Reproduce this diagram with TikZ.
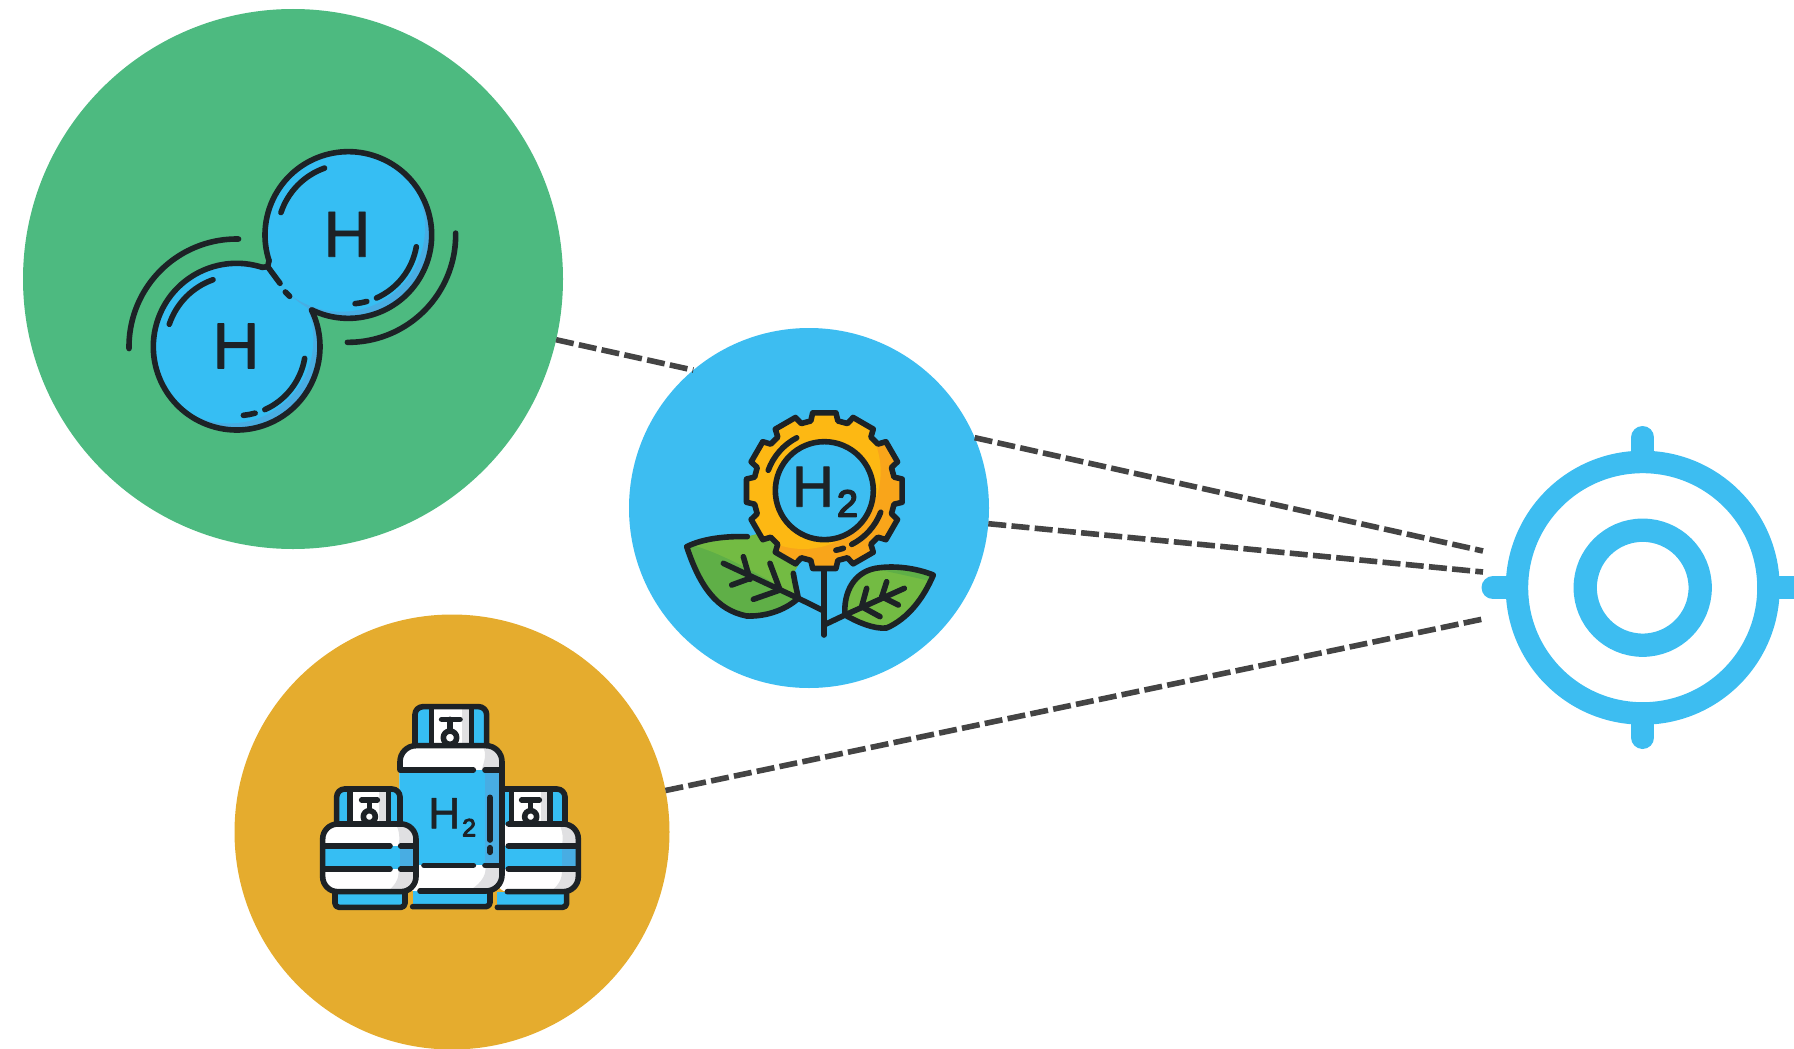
\documentclass[tikz,border=0pt]{standalone}
\usepackage{fontspec}
\setmainfont{Liberation Sans}
\newfontfamily\hfont[RawFeature={embolden=1.2}]{Liberation Sans}
\newfontfamily\hfontb[RawFeature={embolden=4}]{Liberation Sans}
\definecolor{ink}{HTML}{1D2226}
\definecolor{cgreen}{HTML}{4DBA80}
\definecolor{cblue}{HTML}{3DBDF1}
\definecolor{cgold}{HTML}{E5AC2E}
\definecolor{atomblue}{HTML}{36BEF3}
\definecolor{atomshade}{HTML}{48ADE3}
\definecolor{gearlight}{HTML}{FDB813}
\definecolor{geardark}{HTML}{F9A51A}
\definecolor{leaflight}{HTML}{73BB43}
\definecolor{leafdark}{HTML}{5FAF47}
\definecolor{tankgray}{HTML}{E0E0E2}
\definecolor{dashc}{HTML}{444444}
\tikzset{
  disc/.style={circle,inner sep=0pt,outer sep=0pt,minimum size=#1},
  ring/.style={circle,draw=cblue,line width=#1,inner sep=0pt,outer sep=0pt},
  dashline/.style={draw=dashc,line width=5.6pt,dash pattern=on 18pt off 5.3pt},
  tick/.style={draw=cblue,line width=23pt,line cap=round},
  inkline/.style={draw=ink,line width=#1,line cap=round,line join=round},
  inkline/.default=5.6pt,
  zoomed/.style={shift={#1},x=.33333pt,y=-.33333pt},
  lbl/.style={inner sep=0pt,outer sep=0pt,text=ink}
}
% screen angles: clockwise from east
\newcommand{\arcat}[5][]{\draw[inkline,#1] (#2) ++(#4:#3) arc[start angle=#4,end angle=#5,radius=#3];}
\newcommand{\atom}[1]{%
  \begin{scope}
    \clip (#1) circle[radius=250];
    \fill[atomshade] (#1) circle[radius=252];
    \fill[atomblue] ([shift={(-22,-22)}]#1) circle[radius=252];
  \end{scope}}
\newcommand{\atomglints}[1]{%
  \arcat{#1}{213}{-161.6}{-109.5}
  \arcat{#1}{207}{9.8}{65.9}
  \arcat{#1}{207}{84.4}{74.5}}
\def\gearpath{(-11:213) \foreach \a in {0,30,...,330}{ -- (\a-11:213) -- (\a-8.5:236) -- (\a+8.5:236) -- (\a+11:213)} -- cycle}
\begin{document}
\begin{tikzpicture}[x=1pt,y=-1pt,line join=round]
\useasboundingbox (0,0) rectangle (1794,1049);
% discs
\node[disc=540pt,fill=cgreen] (green) at (293,279) {};
\node[disc=360pt,fill=cblue] (blue) at (809,508) {};
\node[disc=435pt,fill=cgold] (gold) at (452,832) {};
% target
\coordinate (tA) at (1642.7,437.5);
\coordinate (tB) at (1642.7,452);
\coordinate (bA) at (1642.7,737.5);
\coordinate (bB) at (1642.7,723);
\coordinate (lA) at (1493,587.7);
\coordinate (lB) at (1507,587.7);
\coordinate (rA) at (1815,587.7);
\coordinate (rB) at (1778,587.7);
\draw[tick] (tA) -- (tB);
\draw[tick] (bA) -- (bB);
\draw[tick] (lA) -- (lB);
\draw[tick] (rA) -- (rB);
\node[ring=22.5pt,minimum size=251.5pt] (outerring) at (1642.7,587.7) {};
\node[ring=23.3pt,minimum size=115pt] (innerring) at (1642.7,587.7) {};
% connectors
\coordinate (endB) at (1483,551);
\coordinate (endC) at (1483,572);
\coordinate (endD) at (1483,619);
\draw[dashline] (green.-13) -- (blue.130.7);
\draw[dashline] (blue.23.6) -- (endB);
\draw[dashline] (blue.-5.7) -- (endC);
\draw[dashline] (gold.11.9) -- (endD);
% ---------- molecule
\begin{scope}[zoomed={(100,120)}]
  \coordinate (U) at (745,345);
  \coordinate (L) at (410,680);
  \atom{L}
  \atom{U}
  \arcat{L}{250}{-72}{-386}
  \arcat{U}{250}{116}{-198}
  \draw[inkline] (487,442) -- (503,440) -- (507,422);
  \draw[inkline] (503,440) -- (540,490);
  \draw[inkline] (556,516) -- (569,529);
  \atomglints{L}
  \atomglints{U}
  \arcat{L}{323}{179}{271}
  \arcat{U}{322}{-1}{90.5}
  \node[lbl,font=\hfont\fontsize{65}{65}\selectfont] (h1) at (741,343) {H};
  \node[lbl,font=\hfont\fontsize{65}{65}\selectfont] (h2) at (408,678) {H};
\end{scope}
% ---------- flower
\begin{scope}[zoomed={(660,390)}]
  % stem
  \draw[inkline] (492,545) -- (492,735);
  \draw[inkline] (415,625) -- (490,662);
  \draw[inkline] (492,705) -- (555,675);
  % left leaf
  \def\leafL{(80,470) .. controls (130,445) and (200,438) .. (262,440) -- (340,420) -- (430,500) -- (400,550) .. controls (405,580) and (410,600) .. (415,625) .. controls (370,665) and (310,680) .. (260,678) .. controls (170,660) and (120,590) .. (80,470) -- cycle}
  \begin{scope}
    \clip \leafL;
    \fill[leafdark] (60,410) rectangle (440,690);
    \fill[leaflight] (95,465) .. controls (190,490) and (310,560) .. (420,625) -- (440,410) -- (90,410) -- cycle;
  \end{scope}
  \draw[inkline] (262,440) .. controls (200,438) and (130,445) .. (80,470) .. controls (120,590) and (170,660) .. (260,678) .. controls (310,680) and (370,665) .. (415,625) .. controls (410,600) and (405,580) .. (400,550);
  \draw[inkline] (190,520) -- (415,625);
  \draw[inkline] (250,500) -- (270,568);
  \draw[inkline] (215,585) -- (270,565);
  \draw[inkline] (330,520) -- (360,600);
  \draw[inkline] (280,628) -- (360,600);
  % right leaf
  \def\leafR{(555,675) .. controls (550,610) and (580,540) .. (660,533) .. controls (710,527) and (770,535) .. (820,555) .. controls (790,625) and (745,685) .. (680,714) .. controls (640,718) and (590,695) .. (555,675) -- cycle}
  \begin{scope}
    \clip \leafR;
    \fill[leaflight] (540,520) rectangle (830,720);
    \fill[leafdark] (600,525) .. controls (680,545) and (760,560) .. (815,575) -- (830,520) -- cycle;
  \end{scope}
  \draw[inkline] \leafR;
  \draw[inkline] (555,675) -- (733,595);
  \draw[inkline] (620,595) -- (605,650);
  \draw[inkline] (680,575) -- (665,622);
  \draw[inkline] (715,645) -- (665,620);
  \draw[inkline] (660,680) -- (605,650);
  % gear
  \begin{scope}[shift={(493,302)}]
    \begin{scope}
      \clip \gearpath;
      \fill[geardark] (0,0) circle[radius=260];
      \fill[gearlight] (-63,-57) circle[radius=232];
    \end{scope}
    \draw[inkline] \gearpath;
    \coordinate (G) at (0,0);
    \filldraw[inkline,fill=cblue] (G) circle[radius=147];
    \arcat{G}{179}{-160}{-117.6}
    \arcat{G}{181}{21}{63}
    \arcat{G}{182}{79}{71.7}
  \end{scope}
  \node[lbl,anchor=base west,font=\hfont\fontsize{58}{58}\selectfont] (h2gear) at (396,350) {H\kern3pt\raisebox{-10pt}{\hfontb\fontsize{38}{38}\selectfont 2}};
\end{scope}
% ---------- tanks
\begin{scope}[zoomed={(300,690)}]
  % right tank
  \fill[atomblue,rounded corners=8pt] (590,297) rectangle (795,410);
  \fill[white] (635,300) rectangle (750,398);
  \fill[tankgray] (722,300) rectangle (750,398);
  \draw[inkline,rounded corners=8pt] (610,297) -- (795,297) -- (795,402);
  \draw[inkline] (635,297) -- (635,398);
  \draw[inkline] (750,297) -- (750,398);
  \draw[inkline] (665,330) -- (718,330);
  \draw[inkline] (692,330) -- (692,362);
  \filldraw[inkline,fill=white] (692,380) circle[radius=18];
  \fill[atomblue] (592,605) rectangle (800,652);
  \draw[inkline,rounded corners=4pt] (800,605) -- (800,652) -- (592,652);
  \def\tankR{(585,402) rectangle (835,607)}
  \fill[white,rounded corners=15pt] \tankR;
  \begin{scope}
    \clip[rounded corners=15pt] \tankR;
    \fill[tankgray] (775,400) .. controls (790,420) and (790,450) .. (785,468) -- (838,468) -- (838,400) -- cycle;
    \fill[tankgray] (785,537) .. controls (790,570) and (770,590) .. (750,607) -- (838,607) -- (838,537) -- cycle;
    \fill[atomblue] (585,468) rectangle (838,537);
    \fill[atomshade] (785,468) rectangle (838,537);
  \end{scope}
  \draw[inkline,rounded corners=15pt] (625,402) -- (835,402) -- (835,605) -- (622,605);
  \draw[inkline] (625,468) -- (830,468);
  \draw[inkline] (625,537) -- (830,537);
  % centre tank
  \fill[atomblue,rounded corners=8pt] (345,50) rectangle (560,185);
  \fill[white] (395,55) rectangle (515,165);
  \fill[tankgray] (485,55) rectangle (515,165);
  \draw[inkline,rounded corners=8pt] (345,175) -- (345,50) -- (560,50) -- (560,175);
  \draw[inkline] (395,52) -- (395,160);
  \draw[inkline] (515,52) -- (515,160);
  \draw[inkline] (425,88) -- (480,88);
  \draw[inkline] (450,88) -- (450,122);
  \filldraw[inkline,fill=white] (450,143) circle[radius=20];
  \fill[atomblue] (340,600) rectangle (570,650);
  \draw[inkline,rounded corners=4pt] (570,603) -- (570,650) -- (338,650);
  \fill[white,rounded corners=16pt] (298,167) rectangle (608,603);
  \begin{scope}
    \clip[rounded corners=16pt] (298,167) rectangle (608,603);
    \fill[tankgray] (545,165) .. controls (565,190) and (550,220) .. (545,240) -- (610,240) -- (610,165) -- cycle;
    \fill[tankgray] (555,525) .. controls (565,560) and (530,590) .. (505,603) -- (610,603) -- (610,525) -- cycle;
    \fill[atomblue] (296,240) rectangle (610,525);
    \fill[atomshade] (555,240) rectangle (610,525);
  \end{scope}
  \draw[inkline,rounded corners=16pt] (300,240) -- (300,167) -- (606,167) -- (606,603) -- (545,603);
  \draw[inkline] (360,603) -- (545,603);
  \draw[inkline] (302,240) -- (520,240);
  \draw[inkline] (555,240) -- (602,240);
  \draw[inkline] (372,526) -- (520,526);
  \draw[inkline] (555,526) -- (602,526);
  \draw[inkline] (570,322) -- (570,450);
  \draw[inkline] (570,473) -- (570,487);
  \node[lbl,anchor=base west,font=\hfont\fontsize{44}{44}\selectfont] (h2tank) at (385,415) {H\kern2pt\raisebox{-8pt}{\hfontb\fontsize{25}{25}\selectfont 2}};
  % left tank
  \fill[atomblue,rounded corners=8pt] (110,297) rectangle (300,410);
  \fill[white] (150,300) rectangle (265,398);
  \fill[tankgray] (237,300) rectangle (265,398);
  \draw[inkline,rounded corners=8pt] (110,410) -- (110,297) -- (300,297) -- (300,410);
  \draw[inkline] (150,297) -- (150,398);
  \draw[inkline] (265,297) -- (265,398);
  \draw[inkline] (185,330) -- (232,330);
  \draw[inkline] (208,330) -- (208,362);
  \filldraw[inkline,fill=white] (208,380) circle[radius=18];
  \fill[atomblue] (105,605) rectangle (315,652);
  \draw[inkline,rounded corners=4pt] (105,605) -- (105,652) -- (315,652) -- (315,605);
  \def\tankL{(68,402) rectangle (348,605)}
  \fill[white,rounded corners=15pt] \tankL;
  \begin{scope}
    \clip[rounded corners=15pt] \tankL;
    \fill[tankgray] (285,400) .. controls (300,420) and (300,450) .. (295,468) -- (350,468) -- (350,400) -- cycle;
    \fill[tankgray] (295,537) .. controls (300,570) and (280,590) .. (260,607) -- (350,607) -- (350,537) -- cycle;
    \fill[atomblue] (66,468) rectangle (350,537);
    \fill[atomshade] (300,468) rectangle (350,537);
  \end{scope}
  \draw[inkline,rounded corners=15pt] \tankL;
  \draw[inkline] (72,468) -- (270,468);
  \draw[inkline] (302,468) -- (344,468);
  \draw[inkline] (72,537) -- (270,537);
  \draw[inkline] (302,537) -- (344,537);
\end{scope}
\end{tikzpicture}
\end{document}
